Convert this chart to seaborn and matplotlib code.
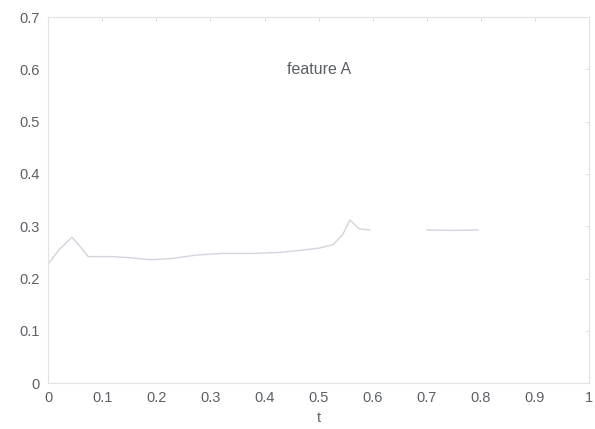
import matplotlib
matplotlib.use("Agg")
import matplotlib.pyplot as plt
import seaborn as sns
import pandas as pd

sns.set_style("white")
plt.rcParams["font.family"] = ["Liberation Sans", "DejaVu Sans"]

# feature A trace, first run (t from 0 to 0.6)
t_first = [0.0, 0.02, 0.044, 0.06, 0.074, 0.115, 0.15, 0.189, 0.226, 0.275,
           0.32, 0.38, 0.43, 0.466, 0.5, 0.527, 0.545, 0.558, 0.575, 0.595]
v_first = [0.228, 0.255, 0.279, 0.26, 0.242, 0.242, 0.240, 0.236, 0.238, 0.245,
           0.248, 0.248, 0.250, 0.254, 0.258, 0.265, 0.285, 0.312, 0.295, 0.293]
# feature A trace, second run (t from 0.7 to 0.8)
t_second = [0.70, 0.75, 0.795]
v_second = [0.293, 0.292, 0.293]

x_ticks = [0, 0.1, 0.2, 0.3, 0.4, 0.5, 0.6, 0.7, 0.8, 0.9, 1]
x_tick_labels = ["0", "0.1", "0.2", "0.3", "0.4", "0.5", "0.6", "0.7", "0.8", "0.9", "1"]
y_ticks = [0, 0.1, 0.2, 0.3, 0.4, 0.5, 0.6, 0.7]
y_tick_labels = ["0", "0.1", "0.2", "0.3", "0.4", "0.5", "0.6", "0.7"]

df_first = pd.DataFrame({"t": t_first, "value": v_first})
df_second = pd.DataFrame({"t": t_second, "value": v_second})

fig = plt.figure(figsize=(5.95, 4.29), dpi=100)
ax = fig.add_axes([0.081, 0.107, 0.909, 0.853])

line_color = "#d0d5de"
sns.lineplot(data=df_first, x="t", y="value", ax=ax, color=line_color, lw=1.0,
             estimator=None, sort=False)
sns.lineplot(data=df_second, x="t", y="value", ax=ax, color=line_color, lw=1.0,
             estimator=None, sort=False)

ax.set_xlim(0, 1)
ax.set_ylim(0, 0.7)
ax.set_xticks(x_ticks)
ax.set_xticklabels(x_tick_labels)
ax.set_yticks(y_ticks)
ax.set_yticklabels(y_tick_labels)

text_color = "#5c6066"
ax.tick_params(axis="both", direction="in", length=3, width=0.6, color="#dadada",
               labelsize=10.5, labelcolor=text_color, top=True, right=True, pad=6)
for s in ax.spines.values():
    s.set_color("#e2e2e2")
    s.set_linewidth(0.8)

ax.set_xlabel("t", fontsize=10.5, color=text_color, labelpad=4)
ax.set_ylabel("")
ax.text(0.5, 0.6, "feature A", ha="center", va="center", fontsize=11.5, color=text_color)

fig.savefig("out.png", dpi=100)
